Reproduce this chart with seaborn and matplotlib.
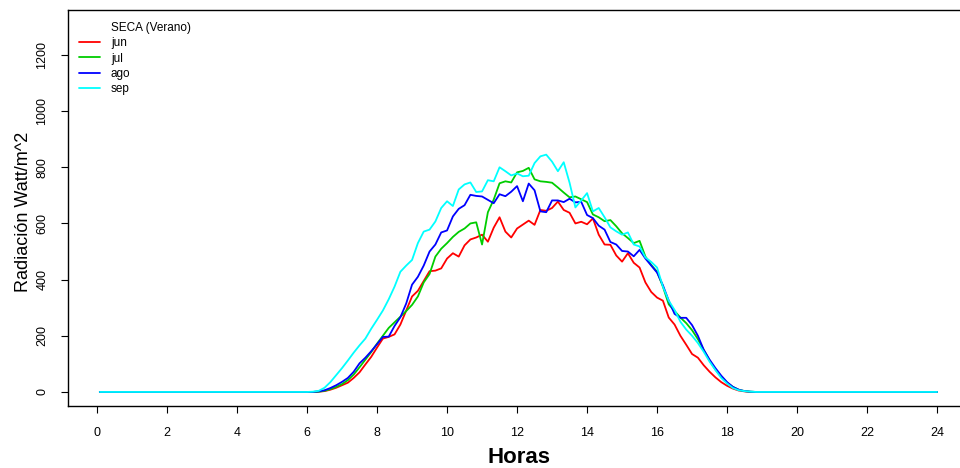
import numpy as np
import pandas as pd
import matplotlib
matplotlib.use("Agg")
import matplotlib.pyplot as plt
from matplotlib.lines import Line2D
import seaborn as sns

# 10-minute readings during the day, flat zero at night
day_hours = np.arange(36, 115) / 6
hours = np.concatenate([[0.08], day_hours, [24.0]])

jun = [0,
       0, 0, 1, 3, 8, 15, 24, 33, 50, 70, 98, 125,
       158, 190, 196, 205, 240, 290, 340, 360, 395, 430, 432, 440,
       475, 494, 482, 522, 543, 550, 560, 535, 585, 622, 571, 550,
       582, 596, 610, 595, 648, 645, 655, 678, 648, 638, 600, 606,
       597, 618, 560, 525, 524, 486, 464, 494, 460, 443, 390, 356,
       336, 325, 265, 240, 200, 168, 135, 122, 95, 72, 52, 35,
       22, 12, 5, 2, 0, 0, 0,
       0]
jul = [0,
       0, 0, 1, 4, 10, 18, 28, 42, 62, 88, 115, 142,
       172, 200, 228, 248, 268, 288, 310, 340, 390, 420, 482, 510,
       530, 552, 570, 582, 600, 604, 525, 640, 685, 743, 750, 746,
       782, 787, 798, 757, 750, 748, 745, 728, 710, 693, 696, 686,
       676, 632, 622, 608, 612, 590, 565, 548, 530, 538, 482, 452,
       428, 375, 312, 288, 265, 245, 220, 188, 150, 112, 80, 55,
       33, 18, 8, 3, 1, 0, 0,
       0]
ago = [0,
       0, 0, 2, 6, 14, 24, 36, 50, 72, 102, 122, 145,
       170, 196, 197, 235, 266, 315, 382, 410, 450, 500, 525, 568,
       575, 625, 652, 665, 702, 698, 696, 684, 672, 704, 697, 713,
       733, 679, 742, 718, 643, 640, 682, 682, 676, 688, 675, 677,
       630, 619, 592, 578, 534, 525, 502, 500, 483, 506, 475, 450,
       425, 380, 325, 278, 264, 264, 238, 200, 150, 115, 85, 58,
       35, 18, 8, 3, 1, 0, 0,
       0]
sep = [0,
       0, 1, 4, 15, 35, 60, 85, 112, 140, 166, 190, 225,
       257, 290, 330, 375, 428, 450, 470, 530, 571, 578, 607, 655,
       679, 662, 721, 739, 746, 712, 714, 754, 750, 800, 786, 771,
       778, 768, 770, 815, 839, 845, 820, 786, 818, 745, 657, 682,
       708, 643, 655, 622, 586, 572, 560, 568, 525, 518, 479, 463,
       443, 375, 325, 292, 250, 222, 200, 174, 143, 108, 78, 50,
       30, 14, 6, 3, 1, 0, 0,
       0]

months = ["jun", "jul", "ago", "sep"]
colors = {"jun": "#FF0000", "jul": "#00CD00", "ago": "#0000FF", "sep": "#00FFFF"}

df = pd.concat([pd.DataFrame({"hora": hours, "rad": vals, "mes": m})
                for m, vals in zip(months, [jun, jul, ago, sep])])

sns.set_style("white")
plt.rcParams['font.family'] = ['Liberation Sans', 'DejaVu Sans']
plt.rcParams['text.color'] = 'black'
plt.rcParams['axes.labelcolor'] = 'black'

fig = plt.figure(figsize=(9.6, 4.68), dpi=100)
ax = fig.add_axes([68/960, 62/468, 902/960, 396/468])

sns.lineplot(data=df, x="hora", y="rad", hue="mes", hue_order=months,
             palette=colors, sort=False, estimator=None, linewidth=1.3,
             legend=False, ax=ax)

ax.set_xlim(-0.829, 24.94)
ax.set_ylim(-50, 1360)
ax.set_xticks(range(0, 25, 2))
ax.set_yticks(range(0, 1201, 200))
ax.tick_params(axis='both', direction='out', length=5, width=0.8,
               labelsize=9, colors='black', bottom=True, left=True)
ax.tick_params(axis='x', pad=10)
ax.tick_params(axis='y', pad=9)
for lab in ax.get_yticklabels():
    lab.set_rotation(90)
    lab.set_va('center')

for sp in ax.spines.values():
    sp.set_color('black')
    sp.set_linewidth(1.0)

ax.set_xlabel("Horas", fontsize=16, fontweight='bold', labelpad=6)
ax.set_ylabel("Radiación Watt/m^2", fontsize=13)
ax.yaxis.set_label_coords(-0.04, 0.49)

handles = [Line2D([], [], color='none')] + \
    [Line2D([], [], color=colors[m], linewidth=1.3) for m in months]
labels = ["SECA (Verano)"] + months
fig.legend(handles, labels, loc='upper left', bbox_to_anchor=(79/960, 1 - 22/468),
           frameon=False, fontsize=8.5, handlelength=1.8, handletextpad=0.9,
           labelspacing=0.28, borderpad=0, borderaxespad=0)

plt.savefig("out.png", dpi=100)
